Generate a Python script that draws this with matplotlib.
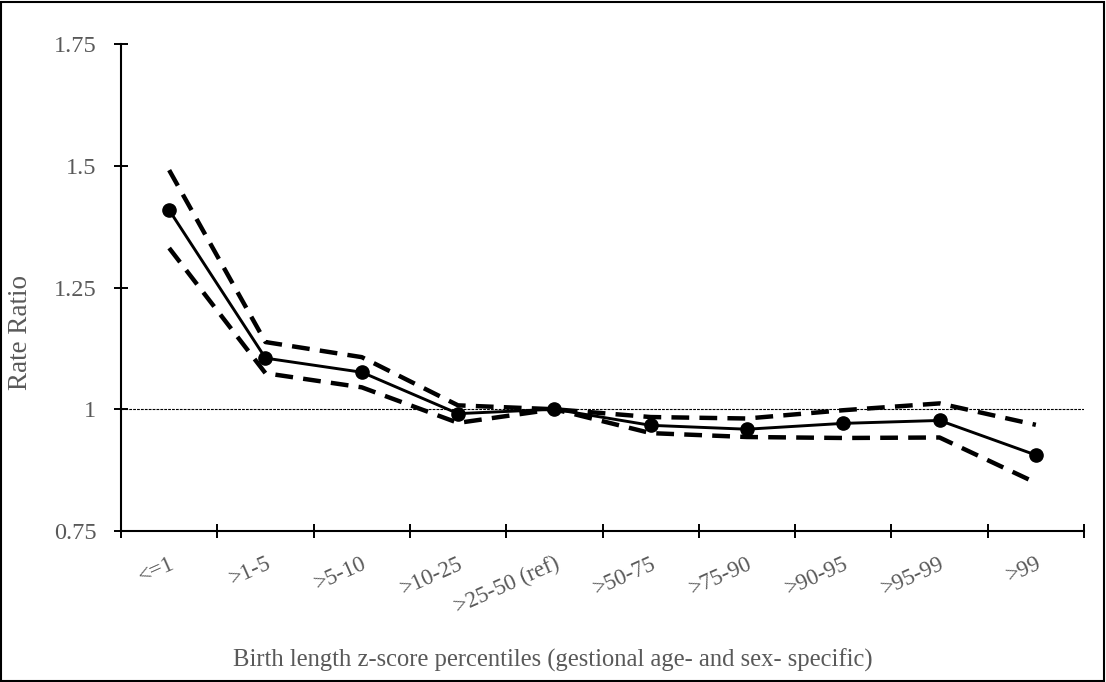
import matplotlib
matplotlib.use('Agg')
import matplotlib.pyplot as plt
from matplotlib.patches import Rectangle
import numpy as np

####################################################################################################

categories = ['<=1', '>1-5', '>5-10', '>10-25', '>25-50 (ref)',
              '>50-75', '>75-90', '>90-95', '>95-99', '>99']
rate_ratio = [1.409, 1.105, 1.076, 0.991, 1.000, 0.967, 0.959, 0.971, 0.977, 0.906]
ci_upper = [1.491, 1.138, 1.107, 1.008, 1.000, 0.984, 0.981, 0.998, 1.012, 0.968]
ci_lower = [1.331, 1.074, 1.045, 0.972, 1.000, 0.951, 0.943, 0.941, 0.942, 0.849]
reference_value = 1.0
y_ticks = [0.75, 1.0, 1.25, 1.5, 1.75]
y_tick_labels = ['0.75', '1', '1.25', '1.5', '1.75']

####################################################################################################

plt.rcParams['font.family'] = ['Liberation Serif', 'DejaVu Serif']
grey = '#595959'

fig = plt.figure(figsize=(11.06, 6.82), dpi=100)
ax = fig.add_axes([121 / 1106, 151 / 682, 963 / 1106, 487 / 682])

x = np.arange(len(categories)) + 0.5

ax.axhline(reference_value, color='black', lw=0.8, dashes=(2.5, 1.0), zorder=1)
ax.plot(x, ci_upper, color='black', lw=3.2, dashes=(4.0, 2.3), zorder=2)
ax.plot(x, ci_lower, color='black', lw=3.2, dashes=(4.0, 2.3), zorder=2)
ax.plot(x, rate_ratio, color='black', lw=2.1, marker='o', markersize=9.5, zorder=3)

ax.set_xlim(0, len(categories))
ax.set_ylim(0.75, 1.75)

# category boundaries carry the tick marks, centres carry the labels
ax.set_xticks(np.arange(len(categories) + 1))
ax.set_xticklabels([])
ax.set_xticks(x, minor=True)
ax.set_xticklabels(categories, minor=True, rotation=24, ha='right', va='top',
                   rotation_mode='anchor', color=grey, fontsize=16.5)
ax.tick_params(axis='x', which='minor', length=0, pad=16)
ax.tick_params(axis='x', which='major', direction='inout', length=9.4, width=1.4)

ax.set_yticks(y_ticks)
ax.set_yticklabels(y_tick_labels, color=grey, fontsize=17.5)
ax.tick_params(axis='y', direction='inout', length=9.4, width=1.4, pad=13)

for side in ('top', 'right'):
    ax.spines[side].set_visible(False)
for side in ('left', 'bottom'):
    ax.spines[side].set_linewidth(1.5)

ax.set_ylabel('Rate Ratio', color=grey, fontsize=19.5)
ax.yaxis.set_label_coords(-0.091, 0.407)
ax.set_xlabel('Birth length z-score percentiles (gestional age- and sex- specific)',
              color=grey, fontsize=17.7, va='center')
ax.xaxis.set_label_coords(0.4486, -0.265)

fig.add_artist(Rectangle((0.0012, 0.002), 0.9968, 0.9955, transform=fig.transFigure,
                         fill=False, edgecolor='black', lw=1.5))

fig.savefig('out.png', dpi=100)
